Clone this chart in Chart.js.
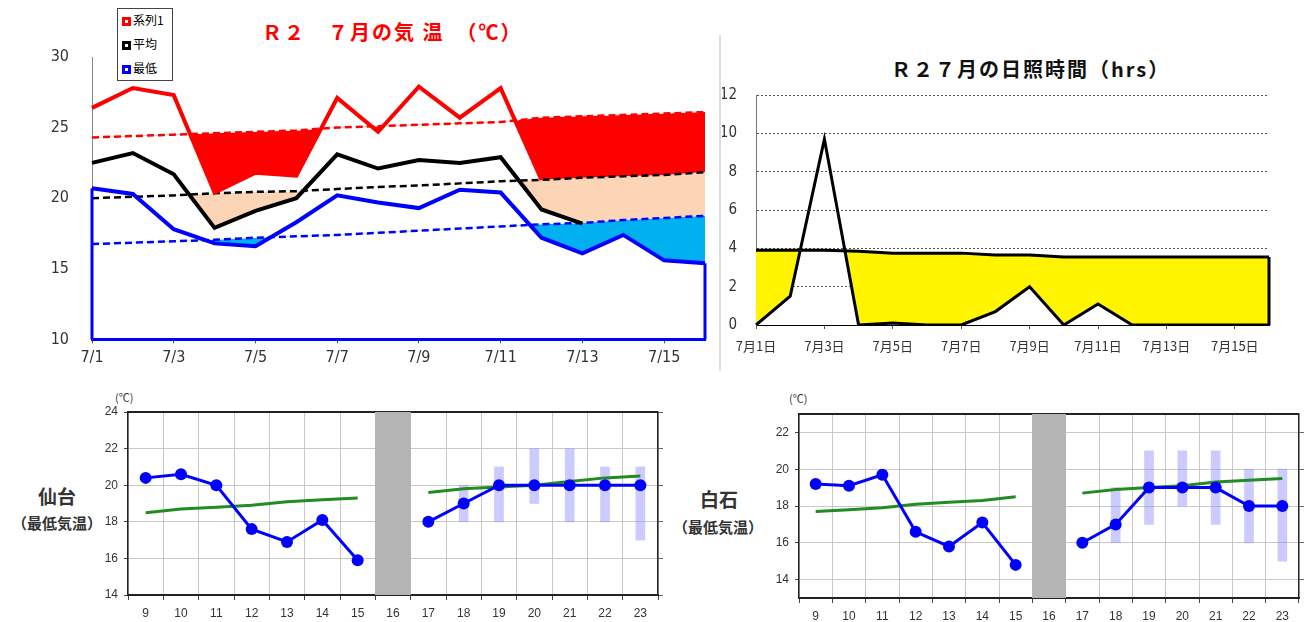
<!DOCTYPE html>
<html>
<head>
<meta charset="utf-8">
<script src="https://cdn.jsdelivr.net/npm/chart.js@4"></script>
<style>
body { margin: 0; width: 1306px; height: 622px; position: relative; background: #fff; overflow: hidden; font-family: 'Noto Sans CJK JP', sans-serif; }
canvas { position: absolute; }
.txt { position: absolute; white-space: nowrap; }
.ctr { position: absolute; width: 120px; text-align: center; white-space: nowrap; font-weight: bold; color: #333; }
#legend { position: absolute; left: 117px; top: 8px; width: 54px; height: 71px; border: 1px solid #444; background: #fff; font-size: 12px; }
#legend div { position: absolute; left: 4px; line-height: 14px; }
#legend span { display: inline-block; width: 3px; height: 3px; border: 3px solid; background: #fff; margin-right: 2px; vertical-align: -1px; }
</style>
</head>
<body>
<div class="txt" style="left:262px;top:17px;font-size:20px;font-weight:bold;color:#ff0000;letter-spacing:2px;">Ｒ２　７月の気 温　（℃）</div>
<div id="legend">
  <div style="top:4px"><span style="border-color:#ff0000"></span>系列1</div>
  <div style="top:28px"><span style="border-color:#000"></span>平均</div>
  <div style="top:52px"><span style="border-color:#0000ff"></span>最低</div>
</div>
<div style="position:absolute;left:719px;top:35px;width:2px;height:336px;background:#ddd;"></div>
<div class="txt" style="left:891px;top:54px;font-size:20px;font-weight:bold;color:#111;letter-spacing:2px;">Ｒ２７月の日照時間（hrs）</div>

<div class="ctr" style="left:-3px;top:482px;font-size:19px;">仙台</div>
<div class="ctr" style="left:-3px;top:512px;font-size:15px;">（最低気温）</div>
<div class="txt" style="left:115px;top:389px;font-size:11px;color:#333;">(℃)</div>
<div class="ctr" style="left:659px;top:485px;font-size:19px;">白石</div>
<div class="ctr" style="left:658px;top:516px;font-size:15px;">（最低気温）</div>
<div class="txt" style="left:789px;top:390px;font-size:11px;color:#333;">(℃)</div>

<canvas id="c1" width="720" height="372" style="left:0;top:0"></canvas>
<canvas id="c2" width="584" height="290" style="left:722px;top:80px"></canvas>
<canvas id="c3" width="575" height="237" style="left:95px;top:385px"></canvas>
<canvas id="c4" width="546" height="237" style="left:760px;top:385px"></canvas>

<script>
// R2 July temperature (Sendai), 7/1 - 7/16
const tempDays = ['7/1', '7/2', '7/3', '7/4', '7/5', '7/6', '7/7', '7/8', '7/9', '7/10', '7/11', '7/12', '7/13', '7/14', '7/15', '7/16'];
const maxTemp = [26.4, 27.8, 27.3, 20.4, 21.8, 21.6, 27.1, 24.7, 27.9, 25.7, 27.8, null, null, null, null, null];
const avgTemp = [22.5, 23.2, 21.7, 17.9, 19.1, 20.0, 23.1, 22.1, 22.7, 22.5, 22.9, 19.2, 18.2, null, null, null];
const minTemp = [20.7, 20.3, 17.8, 16.8, 16.6, 18.3, 20.2, 19.7, 19.3, 20.6, 20.4, 17.2, 16.1, 17.4, 15.6, 15.4];
const maxNormal = [24.3, 24.4, 24.5, 24.6, 24.7, 24.8, 25.0, 25.1, 25.2, 25.3, 25.4, 25.7, 25.8, 25.9, 26.0, 26.1];
const avgNormal = [20.0, 20.1, 20.2, 20.35, 20.45, 20.5, 20.65, 20.8, 20.9, 21.05, 21.2, 21.3, 21.45, 21.55, 21.65, 21.85];
const minNormal = [16.75, 16.85, 16.95, 17.05, 17.2, 17.3, 17.4, 17.55, 17.7, 17.85, 18.0, 18.15, 18.25, 18.45, 18.6, 18.75];

// R2 July sunshine hours
const sunDays = ['7月1日', '7月2日', '7月3日', '7月4日', '7月5日', '7月6日', '7月7日', '7月8日', '7月9日', '7月10日', '7月11日', '7月12日', '7月13日', '7月14日', '7月15日', '7月16日'];
const sunHours = [0, 1.5, 9.7, 0, 0.1, 0, 0, 0.7, 2.0, 0, 1.1, 0, 0, 0, 0, 0];
const sunNormal = [3.9, 3.9, 3.9, 3.85, 3.75, 3.75, 3.75, 3.65, 3.65, 3.55, 3.55, 3.55, 3.55, 3.55, 3.55, 3.55];

// minimum temperature, observed (9-15) and forecast (17-23)
const fcDays = ['9', '10', '11', '12', '13', '14', '15', '16', '17', '18', '19', '20', '21', '22', '23'];
const sendaiMin = [20.4, 20.6, 20.0, 17.6, 16.9, 18.1, 15.9, null, 18.0, 19.0, 20.0, 20.0, 20.0, 20.0, 20.0];
const sendaiNormal = [18.5, 18.7, 18.8, 18.9, 19.1, 19.2, 19.3, null, 19.6, 19.8, 19.9, 20.0, 20.2, 20.4, 20.5];
const sendaiRange = [null, null, null, null, null, null, null, null, null, [18, 20], [18, 21], [19, 22], [18, 22], [18, 21], [17, 21]];
const shiroMin = [19.2, 19.1, 19.7, 16.6, 15.8, 17.1, 14.8, null, 16.0, 17.0, 19.0, 19.0, 19.0, 18.0, 18.0];
const shiroNormal = [17.7, 17.8, 17.9, 18.1, 18.2, 18.3, 18.5, null, 18.7, 18.9, 19.0, 19.1, 19.3, 19.4, 19.5];
const shiroRange = [null, null, null, null, null, null, null, null, null, [16, 19], [17, 21], [18, 21], [17, 21], [16, 20], [15, 20]];
const gapDay = '16';

const narrow = "'Liberation Sans Narrow', 'DejaVu Sans Condensed', 'Liberation Sans', sans-serif";
const plain = "'Liberation Sans', Arial, sans-serif";

// ---------- temperature chart ----------
// lower edges of the shaded areas: where a day has no value the area runs down to the next normal
const redEdge = maxTemp.map((v, i) => v ?? avgNormal[i]);
const blackEdge = avgTemp.map((v, i) => v ?? minNormal[i]);
// the red line still drops to the first day without a value
const redLine = maxTemp.map((v, i) => v ?? (i > 0 && maxTemp[i - 1] != null ? avgNormal[i] : null));

const blueEdges = {
    id: 'blueEdges',
    afterDatasetsDraw(chart) {
        const {ctx, scales: {x, y}} = chart;
        const last = minTemp.length - 1;
        ctx.save();
        ctx.strokeStyle = '#0000ff';
        ctx.lineWidth = 3;
        ctx.beginPath();
        ctx.moveTo(x.getPixelForValue(0), y.getPixelForValue(minTemp[0]));
        ctx.lineTo(x.getPixelForValue(0), y.getPixelForValue(10));
        ctx.moveTo(x.getPixelForValue(last), y.getPixelForValue(minTemp[last]));
        ctx.lineTo(x.getPixelForValue(last), y.getPixelForValue(10));
        ctx.stroke();
        ctx.restore();
    }
};

new Chart(document.getElementById('c1'), {
    type: 'line',
    data: {
        labels: tempDays,
        datasets: [{
            label: '系列1',
            data: redLine,
            borderColor: '#ff0000',
            borderWidth: 4,
            fill: false
        }, {
            label: '平均',
            data: avgTemp,
            borderColor: '#000',
            borderWidth: 4,
            fill: false
        }, {
            label: '最低',
            data: minTemp,
            borderColor: '#0000ff',
            borderWidth: 4,
            fill: { target: 7, above: 'transparent', below: '#00b0f0' }
        }, {
            data: redEdge,
            borderWidth: 0,
            borderColor: 'transparent',
            fill: { target: 5, above: 'transparent', below: '#ff0000' }
        }, {
            data: blackEdge,
            borderWidth: 0,
            borderColor: 'transparent',
            fill: { target: 6, above: 'transparent', below: '#fbd5b5' }
        }, {
            data: maxNormal, borderColor: '#ff0000', borderWidth: 2.5, borderDash: [7, 4], fill: false
        }, {
            data: avgNormal, borderColor: '#000', borderWidth: 2.5, borderDash: [7, 4], fill: false
        }, {
            data: minNormal, borderColor: '#0000ff', borderWidth: 2.5, borderDash: [7, 4], fill: false
        }]
    },
    options: {
        responsive: false,
        animation: false,
        layout: { padding: { left: 0, right: 15, top: 57, bottom: 0 } },
        elements: { point: { radius: 0 }, line: { tension: 0 } },
        plugins: {
            legend: { display: false },
            tooltip: { enabled: false },
            filler: { drawTime: 'beforeDatasetsDraw' }
        },
        scales: {
            x: {
                offset: false,
                afterFit: s => { s.height = 29; },
                grid: { display: true, drawOnChartArea: false, tickLength: 4, tickColor: c => c.index % 2 === 0 ? '#555' : 'transparent' },
                border: { color: '#0000ff', width: 3 },
                ticks: {
                    autoSkip: false, maxRotation: 0, padding: 5, color: '#333',
                    font: { family: narrow, size: 16 },
                    callback: (v, i) => i % 2 === 0 ? tempDays[i] : ''
                }
            },
            y: {
                min: 10, max: 30,
                afterFit: s => { s.width = 92; },
                grid: { display: false, drawTicks: false },
                border: { color: '#888', width: 1 },
                ticks: { stepSize: 5, padding: 23, color: '#333', font: { family: narrow, size: 16 } }
            }
        }
    },
    plugins: [blueEdges]
});

// ---------- sunshine chart ----------
const sunRightEdge = {
    id: 'sunRightEdge',
    afterDatasetsDraw(chart) {
        const {ctx, scales: {x, y}} = chart;
        const last = sunNormal.length - 1;
        ctx.save();
        ctx.strokeStyle = '#000';
        ctx.lineWidth = 3;
        ctx.beginPath();
        ctx.moveTo(x.getPixelForValue(last), y.getPixelForValue(sunNormal[last]));
        ctx.lineTo(x.getPixelForValue(last), y.getPixelForValue(0));
        ctx.stroke();
        ctx.restore();
    }
};

new Chart(document.getElementById('c2'), {
    type: 'line',
    data: {
        labels: sunDays,
        datasets: [{
            label: '日照時間',
            data: sunHours,
            borderColor: '#000',
            borderWidth: 3,
            fill: { target: 1, above: 'transparent', below: '#fff500' }
        }, {
            label: '平年',
            data: sunNormal,
            borderColor: '#000',
            borderWidth: 3,
            fill: false
        }]
    },
    options: {
        responsive: false,
        animation: false,
        layout: { padding: { left: 0, right: 37, top: 15, bottom: 0 } },
        elements: { point: { radius: 0 }, line: { tension: 0 } },
        plugins: {
            legend: { display: false },
            tooltip: { enabled: false },
            filler: { drawTime: 'beforeDatasetsDraw' }
        },
        scales: {
            x: {
                offset: false,
                afterFit: s => { s.height = 45; },
                grid: { display: true, drawOnChartArea: false, tickLength: 4, tickColor: c => c.index % 2 === 0 ? '#555' : 'transparent' },
                border: { color: '#000', width: 1 },
                ticks: {
                    autoSkip: false, maxRotation: 0, padding: 9, color: '#333',
                    font: { family: "'Noto Sans CJK JP', sans-serif", size: 13 },
                    callback: (v, i) => i % 2 === 0 ? sunDays[i] : ''
                }
            },
            y: {
                min: 0, max: 12,
                afterFit: s => { s.width = 34; },
                grid: { color: c => c.tick.value === 0 ? 'transparent' : '#555', drawTicks: true, tickLength: 17, tickColor: 'transparent', lineWidth: 1 },
                border: { color: '#777', width: 1, dash: [2, 2] },
                ticks: { stepSize: 2, padding: 2, color: '#333', font: { family: narrow, size: 15 } }
            }
        }
    },
    plugins: [sunRightEdge]
});

// ---------- Sendai / Shiroishi forecast charts ----------
const topBorder = {
    id: 'topBorder',
    beforeDatasetsDraw(chart) {
        const {ctx, chartArea} = chart;
        ctx.save();
        ctx.fillStyle = '#222';
        ctx.fillRect(chartArea.left, chartArea.top - 1, chartArea.right - chartArea.left, 2);
        ctx.restore();
    }
};

function forecastChart(id, minVals, normalVals, rangeVals, yMin, yMax, leftW, rightW, topPad, bottomH) {
    const evenTicks = s => {
        const t = [];
        for (let v = Math.ceil(yMin / 2) * 2; v <= yMax; v += 2) t.push({ value: v });
        s.ticks = t;
    };
    const band = fcDays.map(d => d === gapDay ? [yMin, yMax] : null);
    return new Chart(document.getElementById(id), {
        data: {
            labels: fcDays,
            datasets: [{
                type: 'line',
                label: '最低気温',
                data: minVals,
                borderColor: '#0000ff',
                borderWidth: 3,
                pointRadius: 6,
                pointBackgroundColor: '#0000ff',
                pointBorderWidth: 0,
                order: 0
            }, {
                type: 'line',
                label: '平年値',
                data: normalVals,
                borderColor: '#228b22',
                borderWidth: 3,
                pointRadius: 0,
                order: 1
            }, {
                type: 'bar',
                label: '予測範囲',
                data: rangeVals,
                backgroundColor: 'rgba(140,140,255,0.45)',
                barThickness: 9,
                grouped: false,
                order: 2
            }, {
                type: 'bar',
                data: band,
                backgroundColor: '#b4b4b4',
                barPercentage: 1,
                categoryPercentage: 1,
                grouped: false,
                order: 3
            }]
        },
        options: {
            responsive: false,
            animation: false,
            layout: { padding: { left: 0, right: 0, top: topPad, bottom: 0 } },
            plugins: { legend: { display: false }, tooltip: { enabled: false } },
            scales: {
                x: {
                    offset: true,
                    afterFit: s => { s.height = bottomH; },
                    grid: { offset: true, color: '#c8c8c8', tickColor: '#444', tickLength: 5 },
                    border: { color: '#222', width: 2 },
                    ticks: { padding: 6, color: '#333', font: { family: plain, size: 12 } }
                },
                y: {
                    min: yMin, max: yMax,
                    afterFit: s => { s.width = leftW; },
                    afterBuildTicks: evenTicks,
                    grid: { color: '#c8c8c8', tickColor: '#444', tickLength: 4 },
                    border: { color: '#222', width: 1.5 },
                    ticks: { padding: 6, color: '#333', font: { family: plain, size: 12 } }
                },
                y2: {
                    position: 'right',
                    min: yMin, max: yMax,
                    afterFit: s => { s.width = rightW; },
                    afterBuildTicks: evenTicks,
                    grid: { drawOnChartArea: false, tickColor: '#666', tickLength: 5 },
                    border: { color: '#222', width: 1.5 },
                    ticks: { display: false }
                }
            }
        },
        plugins: [topBorder]
    });
}

forecastChart('c3', sendaiMin, sendaiNormal, sendaiRange, 14, 24, 33, 12, 27, 27);
forecastChart('c4', shiroMin, shiroNormal, shiroRange, 13, 23, 39, 7, 29, 24);
</script>
</body>
</html>
